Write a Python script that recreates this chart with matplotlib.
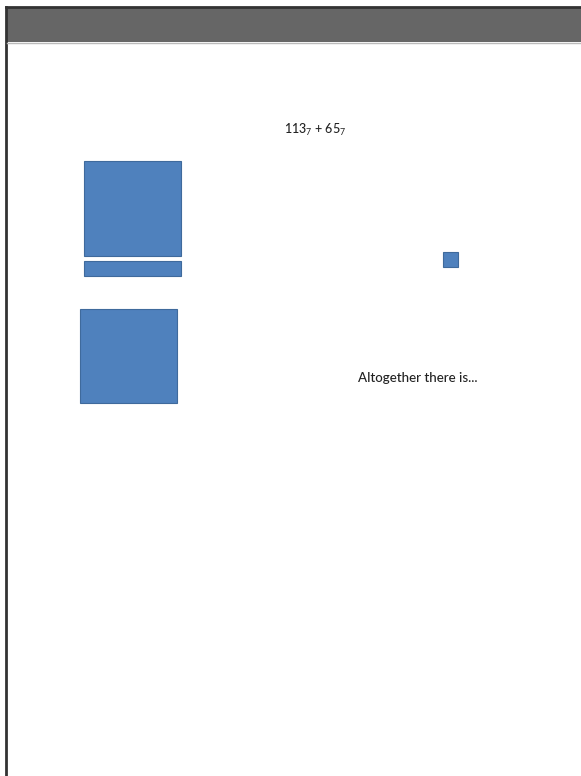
import matplotlib
matplotlib.use("Agg")
import matplotlib.pyplot as plt
from matplotlib.patches import Rectangle

plt.rcParams['font.family'] = ['Lato', 'DejaVu Sans']
plt.rcParams['mathtext.fontset'] = 'custom'
plt.rcParams['mathtext.rm'] = 'Lato'
plt.rcParams['mathtext.it'] = 'Lato'

# base-7 blocks: x, y, width, height (page pixels, y downward)
block_names = ["flat_1", "long_1", "flat_2", "unit_1"]
block_x = [84, 84, 80, 443]
block_y = [161, 261, 309, 252]
block_w = [97, 97, 97, 15]
block_h = [95, 15, 94, 15]

title_text = "113$_7$ + 65$_7$"
note_text = "Altogether there is..."

fig = plt.figure(figsize=(5.81, 7.76), dpi=100)
ax = fig.add_axes([0, 0, 1, 1])
ax.set_xlim(0, 581)
ax.set_ylim(776, 0)
ax.axis("off")

# slide frame and header bar
ax.add_patch(Rectangle((7, 8), 580, 34, facecolor="#666666", edgecolor="none"))
ax.plot([6, 6], [7, 776], color="#333333", lw=2)
ax.plot([6, 581], [7, 7], color="#333333", lw=2)
ax.plot([7, 581], [42.5, 42.5], color="#bbbbbb", lw=1)

for x, y, w, h in zip(block_x, block_y, block_w, block_h):
    ax.add_patch(Rectangle((x, y), w, h, facecolor="#4f81bd",
                           edgecolor="#3f6a9c", lw=0.8))

ax.text(315, 130, title_text, ha="center", va="center", fontsize=9,
        color="#222222", fontweight="medium")
ax.text(418, 378, note_text, ha="center", va="center", fontsize=9.6,
        color="#222222", fontweight="medium")

fig.savefig("out.png", dpi=100)
